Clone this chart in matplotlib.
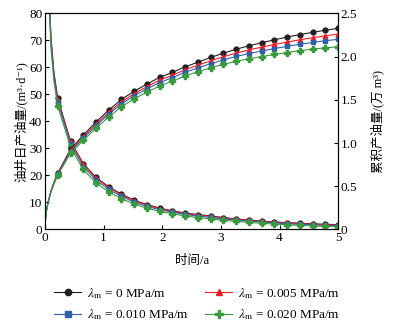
import numpy as np
import matplotlib as mpl
mpl.use('Agg')
from matplotlib import pyplot as plt

plt.rcParams['font.family'] = ['Liberation Serif', 'Noto Sans CJK SC', 'DejaVu Sans']
plt.rcParams['mathtext.fontset'] = 'stix'

# time (a): a few early points without markers, then the marked points
t_early = [0.005, 0.02, 0.05, 0.1, 0.15]
t_mark = [0.217, 0.435, 0.652, 0.870, 1.087, 1.304, 1.522, 1.739, 1.957, 2.174,
          2.391, 2.609, 2.826, 3.043, 3.261, 3.478, 3.696, 3.913, 4.130, 4.348,
          4.565, 4.783, 5.000]

labels = [r'$\lambda_\mathrm{m}$ = 0 MPa/m', r'$\lambda_\mathrm{m}$ = 0.005 MPa/m',
          r'$\lambda_\mathrm{m}$ = 0.010 MPa/m', r'$\lambda_\mathrm{m}$ = 0.020 MPa/m']
colors = ['#231f20', '#ee1c25', '#2e5fa8', '#3a9a3f']
markers = ['o', '^', 's', 'P']

# daily oil rate, m3/d (left axis)
rate_early = [
    [320, 160, 101, 71.5, 58.4],
    [318, 159, 100, 71.0, 58.0],
    [312, 156, 98, 69.5, 57.0],
    [300, 150, 95, 67.5, 55.0],
]
rate = [
    [48.5, 32.7, 24.4, 19.3, 15.8, 13.1, 10.8, 9.2, 7.9, 6.9, 6.1, 5.5, 5.0, 4.4,
     3.9, 3.5, 3.1, 2.8, 2.5, 2.3, 2.1, 1.9, 1.8],
    [48.1, 32.4, 24.1, 19.0, 15.5, 12.8, 10.6, 9.0, 7.7, 6.7, 5.9, 5.3, 4.8, 4.25,
     3.77, 3.37, 2.98, 2.68, 2.38, 2.18, 1.98, 1.78, 1.68],
    [47.1, 31.6, 23.3, 18.25, 14.85, 12.25, 10.1, 8.55, 7.3, 6.35, 5.55, 4.95, 4.45,
     3.9, 3.45, 3.05, 2.7, 2.4, 2.1, 1.9, 1.7, 1.5, 1.4],
    [45.7, 30.4, 22.2, 17.2, 13.9, 11.4, 9.4, 7.9, 6.7, 5.8, 5.0, 4.4, 3.9, 3.4,
     3.0, 2.6, 2.3, 2.0, 1.7, 1.5, 1.3, 1.1, 1.0],
]

# cumulative oil, 10^4 m3 (right axis)
cum_early = [
    [0.10, 0.20, 0.31, 0.44, 0.54],
    [0.10, 0.20, 0.31, 0.44, 0.535],
    [0.10, 0.20, 0.305, 0.435, 0.53],
    [0.10, 0.195, 0.30, 0.43, 0.52],
]
cum = [
    [0.65, 0.93, 1.09, 1.245, 1.38, 1.505, 1.60, 1.682, 1.76, 1.817, 1.882, 1.935,
     1.99, 2.04, 2.085, 2.125, 2.16, 2.195, 2.225, 2.255, 2.28, 2.305, 2.326],
    [0.644, 0.914, 1.071, 1.221, 1.355, 1.477, 1.572, 1.652, 1.728, 1.784, 1.848,
     1.900, 1.952, 1.998, 2.040, 2.077, 2.109, 2.141, 2.168, 2.195, 2.218, 2.240, 2.260],
    [0.638, 0.90, 1.054, 1.20, 1.334, 1.453, 1.547, 1.626, 1.70, 1.756, 1.819,
     1.869, 1.918, 1.962, 2.001, 2.035, 2.064, 2.093, 2.118, 2.143, 2.163, 2.183, 2.20],
    [0.63, 0.88, 1.03, 1.17, 1.303, 1.419, 1.512, 1.589, 1.66, 1.715, 1.777, 1.825,
     1.87, 1.91, 1.945, 1.975, 2.0, 2.025, 2.047, 2.069, 2.085, 2.101, 2.113],
]

fig = plt.figure(figsize=(3.95, 3.34), dpi=100)
ax = fig.add_axes([0.114, 0.313, 0.742, 0.647])
ax2 = ax.twinx()

n_early = len(t_early)
handles = []
for i in range(4):
    tt = t_early + t_mark
    mk = list(range(n_early, n_early + len(t_mark)))
    ms = 3.5 if markers[i] != 'P' else 4
    h, = ax.plot(tt, rate_early[i] + rate[i], color=colors[i], lw=0.8,
                 marker=markers[i], ms=ms, markevery=mk, label=labels[i])
    ax2.plot([0] + tt, [0] + cum_early[i] + cum[i], color=colors[i], lw=0.8,
             marker=markers[i], ms=ms, markevery=[m + 1 for m in mk])
    handles.append(h)

ax.set_xlim(0, 5)
ax.set_ylim(0, 80)
ax2.set_ylim(0, 2.5)
ax.set_xticks([0, 1, 2, 3, 4, 5])
ax.set_yticks(np.arange(0, 81, 10))
ax2.set_yticks([0, 0.5, 1.0, 1.5, 2.0, 2.5])
ax2.set_yticklabels(['0', '0.5', '1.0', '1.5', '2.0', '2.5'])

for a in (ax, ax2):
    a.tick_params(direction='in', labelsize=9.5, length=3, pad=2)
ax.set_xlabel('时间/a', fontsize=9, labelpad=8)
ax.set_ylabel('油井日产油量/(m³·d⁻¹)', fontsize=9, labelpad=1)
ax2.set_ylabel('累积产油量/(万 m³)', fontsize=9, labelpad=9)
ax.spines['bottom'].set_color('#555555')

order = [0, 2, 1, 3]
fig.legend(handles=[handles[k] for k in order], loc='lower center', ncol=2,
           frameon=False, fontsize=9.5, bbox_to_anchor=(0.5, 0.0),
           columnspacing=1.2, handlelength=2.0, handletextpad=0.5,
           labelspacing=0.5, markerscale=1.3)

fig.savefig('out.png', dpi=100)
